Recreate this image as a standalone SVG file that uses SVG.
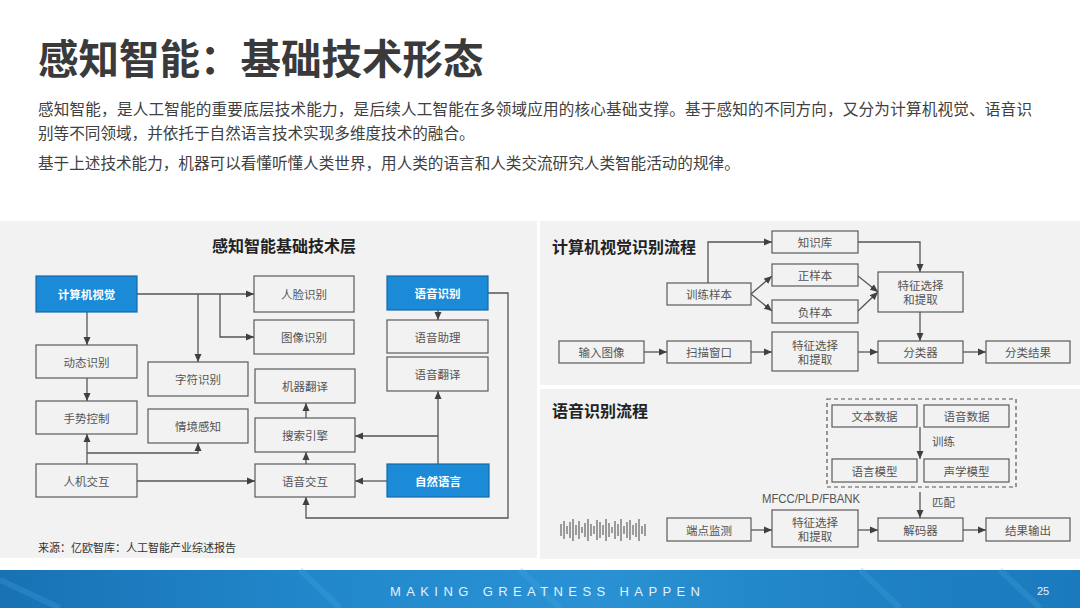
<svg xmlns="http://www.w3.org/2000/svg" width="1080" height="608" viewBox="0 0 1080 608">
<defs>
<marker id="ah" markerUnits="userSpaceOnUse" markerWidth="9" markerHeight="8" refX="8" refY="4" orient="auto">
<path d="M0,0.5 L8,4 L0,7.5 z" fill="#404040"/>
</marker>
<linearGradient id="foot" x1="0" y1="0" x2="1" y2="0">
<stop offset="0" stop-color="#1872b4"/>
<stop offset="0.3" stop-color="#2288cc"/>
<stop offset="0.55" stop-color="#2a92d4"/>
<stop offset="0.8" stop-color="#1f82c4"/>
<stop offset="1" stop-color="#1a7abd"/>
</linearGradient>
</defs>
<style>
.cjk{font-family:"Noto Sans CJK SC","Noto Sans",sans-serif}
.panel{fill:#f2f2f2}
.box{fill:#f2f2f2;stroke:#5a5a5a;stroke-width:1.2}
.bbox{fill:#1b8bd7;stroke:#146aa6;stroke-width:1.2}
.t{font-family:"Noto Sans CJK SC",sans-serif;font-size:11.5px;fill:#555;text-anchor:middle;dominant-baseline:central}
.tw{font-family:"Noto Sans CJK SC",sans-serif;font-size:11.5px;fill:#fff;font-weight:bold;text-anchor:middle;dominant-baseline:central}
.h{font-family:"Noto Sans CJK SC",sans-serif;font-size:16px;font-weight:bold;fill:#222;dominant-baseline:central}
.c{fill:none;stroke:#555;stroke-width:1.3}
.ca{fill:none;stroke:#555;stroke-width:1.3;marker-end:url(#ah)}
.wave line{stroke:#444;stroke-width:1}
</style>
<rect width="1080" height="608" fill="#ffffff"/>
<g id="header">
<text x="38" y="56" class="cjk" font-size="40.5" font-weight="bold" fill="#3a3a3a" dominant-baseline="central">感知智能：基础技术形态</text>
<text x="38" y="108" class="cjk" font-size="15.6" fill="#404040" dominant-baseline="central" textLength="994" lengthAdjust="spacing">感知智能，是人工智能的重要底层技术能力，是后续人工智能在多领域应用的核心基础支撑。基于感知的不同方向，又分为计算机视觉、语音识</text>
<text x="38" y="132" class="cjk" font-size="15.6" fill="#404040" dominant-baseline="central">别等不同领域，并依托于自然语言技术实现多维度技术的融合。</text>
<text x="38" y="162" class="cjk" font-size="15.6" fill="#404040" dominant-baseline="central">基于上述技术能力，机器可以看懂听懂人类世界，用人类的语言和人类交流研究人类智能活动的规律。</text>
</g>
<g id="panels">
<rect class="panel" x="0" y="221" width="537" height="337"/>
<rect class="panel" x="540" y="221" width="540" height="164"/>
<rect class="panel" x="540" y="389" width="540" height="170"/>
</g>
<g id="titles">
<text class="h" x="284" y="245" text-anchor="middle">感知智能基础技术层</text>
<text class="h" x="552" y="246">计算机视觉识别流程</text>
<text class="h" x="552" y="410">语音识别流程</text>
<text x="38" y="547" class="cjk" font-size="11" fill="#333" dominant-baseline="central">来源：亿欧智库：人工智能产业综述报告</text>
</g>
<g id="connectors">
<path class="ca" d="M137,294 H254"/>
<path class="ca" d="M198,294 V362"/>
<path class="ca" d="M220,294 V337 H254"/>
<path class="ca" d="M87,312 V345"/>
<path class="ca" d="M87,378 V401"/>
<path class="ca" d="M87,464 V434"/>
<path class="ca" d="M87,453 H198 V443"/>
<path class="ca" d="M137,481 H255"/>
<path class="ca" d="M387,481 H355"/>
<path class="ca" d="M306,464 V452"/>
<path class="ca" d="M306,418 V403"/>
<path class="ca" d="M438,464 V391"/>
<path class="ca" d="M438,436 H355"/>
<path class="ca" d="M438,310 V320"/>
<path class="ca" d="M488,293 H508 V518 H306 V497"/>
<path class="ca" d="M708,283 V242 H772"/>
<path class="ca" d="M858,242 H920 V272"/>
<path class="ca" d="M751,294 L772,276"/>
<path class="ca" d="M751,294 L772,311"/>
<path class="ca" d="M858,276 L878,292"/>
<path class="ca" d="M858,311 L878,292"/>
<path class="ca" d="M920,312 V341"/>
<path class="ca" d="M644,352 H667"/>
<path class="ca" d="M751,352 H772"/>
<path class="ca" d="M858,352 H878"/>
<path class="ca" d="M963,352 H986"/>
<path class="ca" d="M920,427 V459"/>
<path class="ca" d="M920,492 V518"/>
<path class="ca" d="M751,530 H772"/>
<path class="ca" d="M858,530 H878"/>
<path class="ca" d="M963,530 H986"/>
</g>
<g id="edge-labels">
<text class="cjk" x="932" y="441" font-size="11.5" fill="#555" dominant-baseline="central">训练</text>
<text class="cjk" x="932" y="502" font-size="11.5" fill="#555" dominant-baseline="central">匹配</text>
<text x="762" y="499" font-family="Liberation Sans,Arial,sans-serif" font-size="12" fill="#555" dominant-baseline="central" textLength="98" lengthAdjust="spacingAndGlyphs">MFCC/PLP/FBANK</text>
</g>
<g id="n-cv"><rect class="bbox" x="36" y="276" width="101" height="36"/><text class="tw" x="86.5" y="294">计算机视觉</text></g>
<g id="n-face"><rect class="box" x="254" y="276" width="100" height="36"/><text class="t" x="304" y="294">人脸识别</text></g>
<g id="n-img"><rect class="box" x="254" y="320" width="100" height="34"/><text class="t" x="304" y="337">图像识别</text></g>
<g id="n-asr"><rect class="bbox" x="387" y="276" width="101" height="34"/><text class="tw" x="437.5" y="293">语音识别</text></g>
<g id="n-asst"><rect class="box" x="387" y="320" width="101" height="33"/><text class="t" x="437.5" y="336.5">语音助理</text></g>
<g id="n-strans"><rect class="box" x="387" y="357" width="101" height="34"/><text class="t" x="437.5" y="374">语音翻译</text></g>
<g id="n-dyn"><rect class="box" x="36" y="345" width="101" height="33"/><text class="t" x="86.5" y="361.5">动态识别</text></g>
<g id="n-char"><rect class="box" x="148" y="362" width="100" height="34"/><text class="t" x="198" y="379">字符识别</text></g>
<g id="n-mt"><rect class="box" x="255" y="369" width="100" height="34"/><text class="t" x="305" y="386">机器翻译</text></g>
<g id="n-gest"><rect class="box" x="36" y="401" width="101" height="33"/><text class="t" x="86.5" y="417.5">手势控制</text></g>
<g id="n-ctx"><rect class="box" x="148" y="409" width="100" height="34"/><text class="t" x="198" y="426">情境感知</text></g>
<g id="n-search"><rect class="box" x="255" y="418" width="100" height="34"/><text class="t" x="305" y="435">搜索引擎</text></g>
<g id="n-hci"><rect class="box" x="36" y="464" width="101" height="33"/><text class="t" x="86.5" y="480.5">人机交互</text></g>
<g id="n-vi"><rect class="box" x="255" y="464" width="100" height="33"/><text class="t" x="305" y="480.5">语音交互</text></g>
<g id="n-nlp"><rect class="bbox" x="387" y="464" width="102" height="33"/><text class="tw" x="438" y="480.5">自然语言</text></g>
<g id="n-kb"><rect class="box" x="772" y="231" width="86" height="22"/><text class="t" x="815" y="242">知识库</text></g>
<g id="n-pos"><rect class="box" x="772" y="264" width="86" height="22"/><text class="t" x="815" y="275">正样本</text></g>
<g id="n-neg"><rect class="box" x="772" y="300" width="86" height="23"/><text class="t" x="815" y="311.5">负样本</text></g>
<g id="n-train"><rect class="box" x="667" y="283" width="84" height="22"/><text class="t" x="709" y="294">训练样本</text></g>
<g id="n-feat1"><rect class="box" x="878" y="272" width="85" height="40"/><text class="t" x="920.5" y="285">特征选择</text><text class="t" x="920.5" y="299">和提取</text></g>
<g id="n-input"><rect class="box" x="559" y="341" width="85" height="22"/><text class="t" x="601.5" y="352">输入图像</text></g>
<g id="n-scan"><rect class="box" x="667" y="341" width="84" height="22"/><text class="t" x="709" y="352">扫描窗口</text></g>
<g id="n-feat2"><rect class="box" x="772" y="332" width="86" height="39"/><text class="t" x="815" y="345">特征选择</text><text class="t" x="815" y="359">和提取</text></g>
<g id="n-cls"><rect class="box" x="878" y="341" width="85" height="22"/><text class="t" x="920.5" y="352">分类器</text></g>
<g id="n-res"><rect class="box" x="986" y="341" width="84" height="22"/><text class="t" x="1028" y="352">分类结果</text></g>
<g id="n-train-group"><rect x="827" y="399" width="189" height="88" fill="none" stroke="#555" stroke-width="1.2" stroke-dasharray="4,3"/></g>
<g id="n-txt"><rect class="box" x="832" y="405" width="85" height="22"/><text class="t" x="874.5" y="416">文本数据</text></g>
<g id="n-sd"><rect class="box" x="924" y="405" width="85" height="22"/><text class="t" x="966.5" y="416">语音数据</text></g>
<g id="n-lm"><rect class="box" x="832" y="459" width="85" height="23"/><text class="t" x="874.5" y="470.5">语言模型</text></g>
<g id="n-am"><rect class="box" x="924" y="459" width="85" height="23"/><text class="t" x="966.5" y="470.5">声学模型</text></g>
<g id="n-ep"><rect class="box" x="667" y="518" width="84" height="23"/><text class="t" x="709" y="529.5">端点监测</text></g>
<g id="n-feat3"><rect class="box" x="772" y="510" width="86" height="37"/><text class="t" x="815" y="522">特征选择</text><text class="t" x="815" y="536">和提取</text></g>
<g id="n-dec"><rect class="box" x="878" y="518" width="85" height="23"/><text class="t" x="920.5" y="529.5">解码器</text></g>
<g id="n-out"><rect class="box" x="986" y="518" width="84" height="23"/><text class="t" x="1028" y="529.5">结果输出</text></g>
<g id="waveform" class="wave">
<line x1="561" y1="524" x2="561" y2="536"/>
<line x1="564" y1="521" x2="564" y2="539"/>
<line x1="567" y1="526" x2="567" y2="534"/>
<line x1="570" y1="522" x2="570" y2="538"/>
<line x1="573" y1="519" x2="573" y2="541"/>
<line x1="576" y1="525" x2="576" y2="535"/>
<line x1="579" y1="521" x2="579" y2="539"/>
<line x1="582" y1="527" x2="582" y2="533"/>
<line x1="585" y1="523" x2="585" y2="537"/>
<line x1="588" y1="519" x2="588" y2="541"/>
<line x1="591" y1="524" x2="591" y2="536"/>
<line x1="594" y1="526" x2="594" y2="534"/>
<line x1="597" y1="520" x2="597" y2="540"/>
<line x1="600" y1="522" x2="600" y2="538"/>
<line x1="603" y1="525" x2="603" y2="535"/>
<line x1="606" y1="519" x2="606" y2="541"/>
<line x1="609" y1="523" x2="609" y2="537"/>
<line x1="612" y1="527" x2="612" y2="533"/>
<line x1="615" y1="521" x2="615" y2="539"/>
<line x1="618" y1="524" x2="618" y2="536"/>
<line x1="621" y1="519" x2="621" y2="541"/>
<line x1="624" y1="526" x2="624" y2="534"/>
<line x1="627" y1="522" x2="627" y2="538"/>
<line x1="630" y1="520" x2="630" y2="540"/>
<line x1="633" y1="525" x2="633" y2="535"/>
<line x1="636" y1="523" x2="636" y2="537"/>
<line x1="639" y1="519" x2="639" y2="541"/>
<line x1="642" y1="526" x2="642" y2="534"/>
<line x1="645" y1="524" x2="645" y2="536"/>
</g>
<g id="footer">
<rect x="0" y="570" width="1080" height="38" fill="url(#foot)"/>
<path d="M0,580 L60,608 M300,570 L340,608 M520,570 L560,608 M860,570 L900,608 M1000,570 L1040,608" stroke="#4aa6e0" stroke-width="6" opacity="0.25" fill="none"/>
<text x="390" y="591" font-family="Liberation Sans,Arial,sans-serif" font-size="13" fill="#e3f1fb" dominant-baseline="central" textLength="310" lengthAdjust="spacing">MAKING GREATNESS HAPPEN</text>
<text x="1043" y="591" font-family="Liberation Sans,Arial,sans-serif" font-size="11" fill="#e3f1fb" text-anchor="middle" dominant-baseline="central">25</text>
</g>
</svg>
